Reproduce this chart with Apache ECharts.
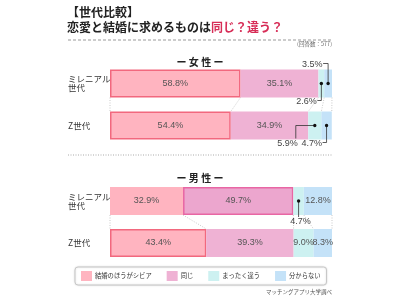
<!DOCTYPE html>
<html>
<head>
<meta charset="utf-8">
<script src="https://cdn.jsdelivr.net/npm/echarts@6/dist/echarts.min.js"></script>
<style>
html, body { margin: 0; padding: 0; background: #fff; }
#chart { width: 400px; height: 300px; }
</style>
</head>
<body>
<div id="chart"></div>
<script>
// 行: ミレニアル世代, Z世代
const categories = ['ミレニアル\n世代', 'Z世代']
const seriesNames = ['結婚のほうがシビア', '同じ', 'まったく違う', '分からない']

// 女性
const femaleStricter = [58.8, 54.4]
const femaleSame = [35.1, 34.9]
const femaleDifferent = [2.6, 5.9]
const femaleUnknown = [3.5, 4.7]

// 男性
const maleStricter = [32.9, 43.4]
const maleSame = [49.7, 39.3]
const maleDifferent = [4.7, 9.0]
const maleUnknown = [12.8, 8.3]

const colors = ['#FFB4C0', '#EFB2D4', '#CDF1F1', '#C4E2F8']
const font = 'Noto Sans CJK JP'
const barW = 28

const groups = [
  { data: [femaleStricter, femaleSame, femaleDifferent, femaleUnknown] },
  { data: [maleStricter, maleSame, maleDifferent, maleUnknown] }
]

// 枠線で強調するセル [grid, series, row]
const highlights = [[0, 0, 0], [0, 0, 1], [1, 1, 0], [1, 0, 1]]
// 小さい値の引き出し線 [grid, series, row, 向き]
const notes = [
  [0, 2, 0, 'downLeft'],
  [0, 3, 0, 'upLeft'],
  [0, 2, 1, 'leftDown'],
  [0, 3, 1, 'downLeft'],
  [1, 2, 0, 'down']
]

function isHighlight (g, s, r) {
  return highlights.some(h => h[0] === g && h[1] === s && h[2] === r)
}
function isNote (g, s, r) {
  return notes.some(n => n[0] === g && n[1] === s && n[2] === r)
}

const series = []
groups.forEach((grp, g) => {
  grp.data.forEach((vals, s) => {
    series.push({
      name: seriesNames[s],
      type: 'bar',
      stack: 'g' + g,
      xAxisIndex: g,
      yAxisIndex: g,
      barWidth: barW,
      itemStyle: { color: colors[s] },
      label: {
        show: true,
        position: 'inside',
        formatter: p => p.value.toFixed(1) + '%',
        fontSize: 9,
        fontFamily: 'Liberation Sans',
        color: '#555'
      },
      data: vals.map((v, r) => {
        const item = { value: v }
        if (isHighlight(g, s, r)) {
          item.itemStyle = s === 1
            ? { color: '#ECA6CE', borderColor: '#E866A4', borderWidth: 1.5 }
            : { borderColor: '#F2687E', borderWidth: 1.5 }
        }
        if (isNote(g, s, r)) item.label = { show: false }
        return item
      })
    })
  })

  // 積み上げ境界の点線
  const cum = [[0, 0]]
  let a = 0
  let b = 0
  grp.data.forEach(vals => {
    a += vals[0]
    b += vals[1]
    cum.push([Math.min(a, 100), Math.min(b, 100)])
  })
  series.push({
    type: 'custom',
    xAxisIndex: g,
    yAxisIndex: g,
    silent: true,
    encode: { x: 0, y: 1 },
    data: cum.map(c => [c[0], 0, c[1]]),
    renderItem: (params, api) => {
      const p1 = api.coord([api.value(0), 0])
      const p2 = api.coord([api.value(2), 1])
      return {
        type: 'line',
        shape: { x1: p1[0], y1: p1[1] + barW / 2, x2: p2[0], y2: p2[1] - barW / 2 },
        style: { stroke: '#bbb', lineWidth: 0.8, lineDash: [1, 1.5] }
      }
    }
  })

  // 引き出し線
  const myNotes = notes.filter(n => n[0] === g)
  series.push({
    type: 'custom',
    xAxisIndex: g,
    yAxisIndex: g,
    silent: true,
    z: 5,
    encode: { x: 0, y: 1 },
    data: myNotes.map(n => {
      const vals = grp.data
      let start = 0
      for (let k = 0; k < n[1]; k++) start += vals[k][n[2]]
      const v = vals[n[1]][n[2]]
      return [start + v / 2, n[2], v]
    }),
    renderItem: (params, api) => {
      const mode = myNotes[params.dataIndex][3]
      const p = api.coord([api.value(0), api.value(1)])
      const x = p[0]
      const y = p[1]
      const text = api.value(2).toFixed(1) + '%'
      let pts
      let tx, ty, align, va
      if (mode === 'upLeft') {
        pts = [[x, y], [x, y - 20], [x - 5, y - 20]]
        tx = x - 5.5; ty = y - 19; align = 'right'; va = 'middle'
      } else if (mode === 'downLeft') {
        pts = [[x, y], [x, y + 17], [x - 4, y + 17]]
        tx = x - 4.5; ty = y + 18; align = 'right'; va = 'middle'
      } else if (mode === 'leftDown') {
        pts = [[x, y], [x - 19, y], [x - 19, y + 13]]
        tx = x - 17; ty = y + 14; align = 'right'; va = 'top'
      } else {
        pts = [[x, y], [x, y + 16]]
        tx = x + 2; ty = y + 16; align = 'center'; va = 'top'
      }
      return {
        type: 'group',
        children: [
          { type: 'polyline', shape: { points: pts }, style: { stroke: '#333', lineWidth: 0.8, fill: null } },
          { type: 'circle', shape: { cx: x, cy: y, r: 1.7 }, style: { fill: '#111' } },
          {
            type: 'text',
            style: {
              x: tx, y: ty, text: text, align: align, verticalAlign: va,
              fontSize: 9, fontFamily: 'Liberation Sans', fill: '#444'
            }
          }
        ]
      }
    }
  })
})

const chart = echarts.init(document.getElementById('chart'))
const option = {
  animation: false,
  textStyle: { fontFamily: font },
  title: [
    {
      text: '【世代比較】\n{a|恋愛と結婚に求めるものは}{b|同じ？違う？}',
      left: 67,
      top: 5,
      padding: 0,
      textStyle: {
        fontSize: 12,
        fontWeight: 'bold',
        color: '#222',
        lineHeight: 15,
        fontFamily: font,
        rich: {
          a: { fontSize: 12, fontWeight: 'bold', color: '#222', fontFamily: font, lineHeight: 15 },
          b: { fontSize: 12, fontWeight: 'bold', color: '#D72D57', fontFamily: font, lineHeight: 15 }
        }
      }
    },
    {
      text: '(回答数：577)',
      right: 68,
      top: 41,
      padding: 0,
      textStyle: { fontSize: 5.5, color: '#666', fontWeight: 'normal', fontFamily: font }
    },
    {
      text: 'ー 女 性 ー',
      left: 'center',
      top: 57,
      padding: 0,
      textStyle: { fontSize: 10, color: '#222', fontWeight: 'bold', fontFamily: font }
    },
    {
      text: 'ー 男 性 ー',
      left: 'center',
      top: 173,
      padding: 0,
      textStyle: { fontSize: 10, color: '#222', fontWeight: 'bold', fontFamily: font }
    },
    {
      text: 'マッチングアプリ大学調べ',
      right: 68,
      top: 289,
      padding: 0,
      textStyle: { fontSize: 5.5, color: '#555', fontWeight: 'normal', fontFamily: font }
    }
  ],
  graphic: [
    {
      type: 'line',
      shape: { x1: 68, y1: 40, x2: 332, y2: 40 },
      style: { stroke: '#999', lineWidth: 1, lineDash: [3, 2] }
    },
    {
      type: 'line',
      shape: { x1: 68, y1: 155, x2: 332, y2: 155 },
      style: { stroke: '#aaa', lineWidth: 1, lineDash: [1, 1.5] }
    }
  ],
  legend: {
    data: seriesNames,
    left: 75,
    top: 267,
    width: 320,
    padding: [4, 6],
    itemWidth: 11,
    itemHeight: 10,
    itemGap: 15,
    icon: 'rect',
    backgroundColor: '#fff',
    borderColor: '#c8c8c8',
    borderWidth: 1,
    borderRadius: 3,
    shadowBlur: 2,
    shadowColor: 'rgba(0,0,0,0.15)',
    textStyle: { fontSize: 6.3, color: '#333', fontFamily: font, padding: [0, 0, 0, -2] }
  },
  grid: [
    { left: 110, right: 68, top: 62.5, height: 84 },
    { left: 110, right: 68, top: 180, height: 84 }
  ],
  xAxis: [0, 1].map(i => ({ type: 'value', gridIndex: i, min: 0, max: 100, show: false })),
  yAxis: [0, 1].map(i => ({
    type: 'category',
    gridIndex: i,
    data: categories,
    inverse: true,
    axisLine: { show: false },
    axisTick: { show: false },
    axisLabel: {
      margin: 42,
      align: 'left',
      fontSize: 8.5,
      lineHeight: 9,
      color: '#333',
      fontFamily: font
    }
  })),
  series: series
}
chart.setOption(option)
</script>
</body>
</html>
